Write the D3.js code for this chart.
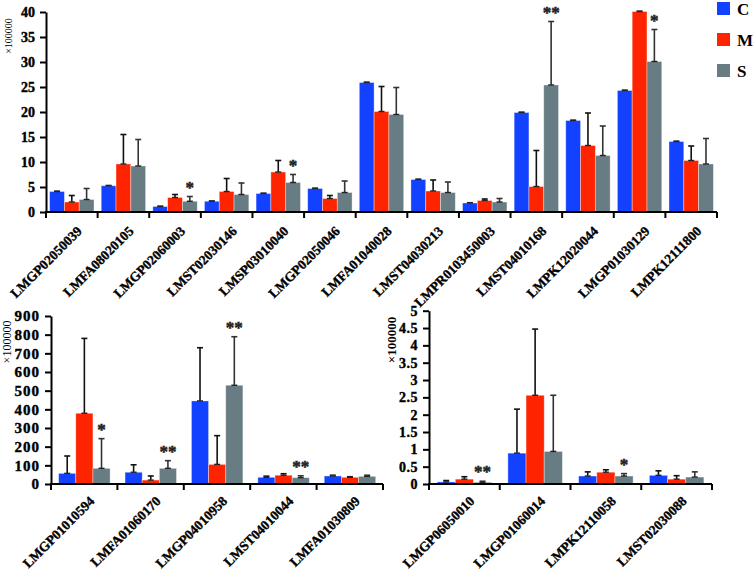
<!DOCTYPE html>
<html>
<head>
<meta charset="utf-8">
<script src="https://d3js.org/d3.v7.min.js"></script>
<style>
  body { margin: 0; background: #fff; }
  text { font-family: "Liberation Serif", "Times New Roman", serif; }
</style>
</head>
<body>
<svg id="chart" width="756" height="571"></svg>
<script>
// series names and colours
var series = ['C', 'M', 'S'];
var colors = {C: '#1242ff', M: '#ff2400', S: '#677c83'};

// top panel
var topCats = ['LMGP02050039','LMFA08020105','LMGP02060003','LMST02030146','LMSP03010040','LMGP02050046','LMFA01040028','LMST04030213','LMPR0103450003','LMST04010168','LMPK12020044','LMGP01030129','LMPK12111800'];
var topC = [4.1, 5.25, 1.1, 2.15, 3.7, 4.7, 25.9, 6.5, 1.8, 19.9, 18.3, 24.3, 14.1];
var topCErr = [0.05, 0.05, 0.05, 0.05, 0.05, 0.05, 0.05, 0.05, 0.05, 0.05, 0.05, 0.05, 0.05];
var topM = [2.0, 9.6, 2.9, 4.1, 8.0, 2.7, 20.1, 4.2, 2.3, 5.1, 13.3, 40.1, 10.3];
var topMErr = [1.3, 5.9, 0.6, 2.6, 2.3, 0.6, 5.0, 2.2, 0.3, 7.2, 6.5, 0.05, 2.9];
var topS = [2.5, 9.2, 2.15, 3.5, 5.9, 3.9, 19.5, 3.9, 2.0, 25.4, 11.3, 30.1, 9.6];
var topSErr = [2.2, 5.3, 0.95, 2.3, 1.6, 2.3, 5.4, 2.1, 0.7, 12.7, 5.9, 6.4, 5.1];
var topSig = ['', '', '*', '', '*', '', '', '', '', '**', '', '*', ''];
var topTicks = [0, 5, 10, 15, 20, 25, 30, 35, 40];

// bottom left panel
var blCats = ['LMGP01010594','LMFA01060170','LMGP04010958','LMST04010044','LMFA01030809'];
var blC = [57, 63, 445, 36, 43];
var blCErr = [93, 40, 285, 6, 4];
var blM = [379, 21, 105, 47, 36];
var blMErr = [401, 22, 154, 8, 3];
var blS = [84, 84, 529, 34, 41];
var blSErr = [159, 41, 260, 10, 6];
var blSig = ['*', '**', '**', '**', ''];
var blTicks = [0, 100, 200, 300, 400, 500, 600, 700, 800, 900];

// bottom right panel
var brCats = ['LMGP06050010','LMGP01060014','LMPK12110058','LMST02030088'];
var brC = [0.06, 0.89, 0.23, 0.25];
var brCErr = [0.04, 1.27, 0.12, 0.13];
var brM = [0.14, 2.56, 0.34, 0.14];
var brMErr = [0.07, 1.91, 0.07, 0.10];
var brS = [0.05, 0.94, 0.23, 0.2];
var brSErr = [0.03, 1.62, 0.07, 0.15];
var brSig = ['**', '', '*', ''];
var brTicks = [0, 0.5, 1, 1.5, 2, 2.5, 3, 3.5, 4, 4.5, 5];

var svg = d3.select('#chart');

function draw_panel(p) {
   var g = svg.append('g');
   var x = d3.scaleBand().domain(p.cats).range([p.x0, p.x1]).padding(0);
   var bw = x.bandwidth();
   var xs = d3.scaleBand().domain(series).range([bw * p.inner[0], bw * p.inner[1]]).padding(0);
   var y = d3.scaleLinear().domain([0, p.max]).range([p.y0, p.y1]);

   var rows = [];
   p.cats.forEach(function(c, i){
      series.forEach(function(s){
         rows.push({cat: c, s: s, v: p.vals[s][i], e: p.errs[s][i]});
      });
   });
   function cx(d){ return x(d.cat) + xs(d.s) + xs.bandwidth()/2; }

   // error bars (upper only)
   var eb = g.selectAll('.eb').data(rows).enter().append('g');
   eb.append('line')
     .attr('x1', cx).attr('x2', cx)
     .attr('y1', function(d){ return y(d.v); })
     .attr('y2', function(d){ return y(d.v + d.e); })
     .attr('stroke', function(d){ return d.s == 'S' ? '#333' : '#111'; })
     .attr('stroke-width', 1.6);
   eb.append('line')
     .attr('x1', function(d){ return cx(d) - 3; })
     .attr('x2', function(d){ return cx(d) + 3; })
     .attr('y1', function(d){ return y(d.v + d.e); })
     .attr('y2', function(d){ return y(d.v + d.e); })
     .attr('stroke', function(d){ return d.s == 'S' ? '#333' : '#111'; })
     .attr('stroke-width', 1.6);

   g.selectAll('.bar').data(rows).enter().append('rect')
     .attr('x', function(d){ return x(d.cat) + xs(d.s); })
     .attr('width', xs.bandwidth())
     .attr('y', function(d){ return y(d.v); })
     .attr('height', function(d){ return y(0) - y(d.v); })
     .attr('fill', function(d){ return colors[d.s]; })
     .attr('stroke', 'rgba(255,255,255,0.45)')
     .attr('stroke-width', 0.8);

   // little cap on top of bar where error line starts
   g.selectAll('.cap').data(rows).enter().append('line')
     .attr('x1', function(d){ return cx(d) - 3; })
     .attr('x2', function(d){ return cx(d) + 3; })
     .attr('y1', function(d){ return y(d.v); })
     .attr('y2', function(d){ return y(d.v); })
     .attr('stroke', '#222')
     .attr('stroke-width', 1.4);

   // significance stars above S
   g.selectAll('.sig').data(p.cats).enter().append('text')
     .attr('x', function(c){ return x(c) + xs('S') + xs.bandwidth()/2; })
     .attr('y', function(c, i){ return y(p.vals.S[i] + p.errs.S[i]) - 4; })
     .attr('text-anchor', 'middle')
     .attr('font-size', 17)
     .attr('font-weight', 'bold')
     .attr('fill', '#222')
     .attr('stroke', '#222').attr('stroke-width', 0.5)
     .text(function(c, i){ return p.sig[i]; });

   // y axis
   var ya = g.append('g')
     .attr('transform', 'translate(' + p.x0 + ',0)')
     .call(d3.axisLeft(y).tickValues(p.ticks).tickSize(6).tickPadding(5).tickSizeOuter(0).tickFormat(d3.format('')));
   ya.attr('font-family', null);
   ya.selectAll('path, line').attr('stroke', '#000').attr('stroke-width', 2);
   ya.selectAll('text').attr('font-size', p.tickFont).attr('font-weight', 'bold')
     .attr('letter-spacing', p.letter).attr('fill', '#000')
     .attr('stroke', '#000').attr('stroke-width', 0.4)
     .style('font-family', '"Liberation Serif", serif');

   // x axis with ticks at band edges
   var edges = d3.range(p.cats.length + 1).map(function(i){ return p.x0 + i * bw; });
   g.append('line').attr('x1', p.x0 - 1).attr('x2', p.x1).attr('y1', y(0)).attr('y2', y(0))
     .attr('stroke', '#000').attr('stroke-width', 2);
   g.selectAll('.xt').data(edges).enter().append('line')
     .attr('x1', function(d){ return d; }).attr('x2', function(d){ return d; })
     .attr('y1', y(0)).attr('y2', y(0) + 6)
     .attr('stroke', '#000').attr('stroke-width', 2);

   g.selectAll('.xl').data(p.cats).enter().append('text')
     .attr('transform', function(c){
        return 'translate(' + (x(c) + bw/2 + p.lab[0]) + ',' + (y(0) + p.lab[1]) + ') rotate(-45)';
     })
     .attr('text-anchor', 'end')
     .attr('font-size', 13.5)
     .attr('font-weight', 'bold')
     .attr('stroke', '#000').attr('stroke-width', 0.35)
     .text(function(c){ return c; });

   // unit label
   g.append('text')
     .attr('transform', 'translate(' + p.unit[0] + ',' + p.unit[1] + ') rotate(-90)')
     .attr('text-anchor', 'middle')
     .attr('font-size', p.unit[2])
     .attr('font-weight', p.unit[3])
     .text('\u00d7100000');
}

draw_panel({cats: topCats, vals: {C: topC, M: topM, S: topS}, errs: {C: topCErr, M: topMErr, S: topSErr},
   sig: topSig, ticks: topTicks, max: 40, x0: 46, x1: 717, y0: 212, y1: 12, inner: [0.07, 0.93],
   tickFont: 14, letter: 0, lab: [11, 20], unit: [12, 36, 10, 'normal']});

draw_panel({cats: blCats, vals: {C: blC, M: blM, S: blS}, errs: {C: blCErr, M: blMErr, S: blSErr},
   sig: blSig, ticks: blTicks, max: 900, x0: 51, x1: 383, y0: 484, y1: 316, inner: [0.115, 0.89],
   tickFont: 15, letter: 1, lab: [11, 18], unit: [11, 342, 12, 'normal']});

draw_panel({cats: brCats, vals: {C: brC, M: brM, S: brS}, errs: {C: brCErr, M: brMErr, S: brSErr},
   sig: brSig, ticks: brTicks, max: 5, x0: 429, x1: 712, y0: 484, y1: 310.7, inner: [0.115, 0.885],
   tickFont: 14, letter: 0.5, lab: [11, 18], unit: [396, 340, 13, 'bold']});

// legend
var leg = svg.append('g').selectAll('g').data(series).enter().append('g')
   .attr('transform', function(d, i){ return 'translate(717,' + (2 + i * 31) + ')'; });
leg.append('rect').attr('width', 13).attr('height', 13).attr('fill', function(d){ return colors[d]; });
leg.append('text').attr('x', 20).attr('y', 13).attr('font-size', 17).attr('font-weight', 'bold').text(function(d){ return d; });
</script>
</body>
</html>
